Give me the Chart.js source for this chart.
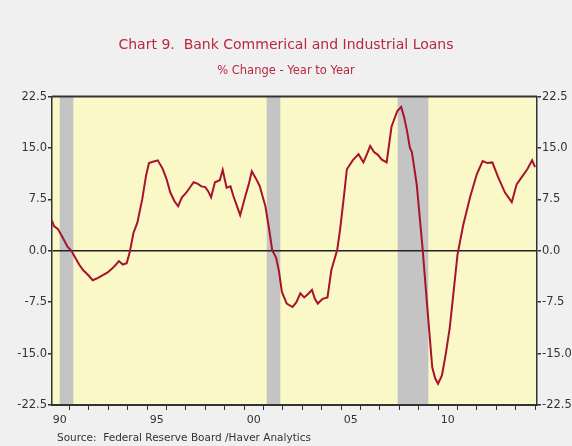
<!DOCTYPE html>
<html>
<head>
<meta charset="utf-8">
<script src="https://cdn.jsdelivr.net/npm/chart.js@4/dist/chart.umd.min.js"></script>
<style>
    body { margin: 0; background: #f0f0f0; }
    #wrap { position: relative; width: 572px; height: 446px; }
    #source {
        position: absolute; left: 57px; top: 431px;
        font: 10.5px "DejaVu Sans", Verdana, sans-serif; color: #333;
        white-space: pre;
    }
</style>
</head>
<body>
<div id="wrap">
    <canvas id="loanChart" width="572" height="446"></canvas>
    <div id="source">Source:  Federal Reserve Board /Haver Analytics</div>
</div>
<script>
// year-over-year % change
const dates = [
    1990.1, 1990.2, 1990.4, 1990.6, 1990.9, 1991.1, 1991.3, 1991.5, 1991.7, 1991.95,
    1992.2, 1992.45, 1992.7, 1992.95, 1993.2, 1993.4, 1993.55, 1993.75, 1993.95, 1994.1,
    1994.3, 1994.5, 1994.75, 1994.95, 1995.1, 1995.3, 1995.55, 1995.8, 1996.0, 1996.2,
    1996.4, 1996.6, 1996.8, 1997.0, 1997.2, 1997.4, 1997.6, 1997.8, 1998.0, 1998.15,
    1998.3, 1998.5, 1998.75, 1998.9, 1999.1, 1999.3, 1999.45, 1999.6, 1999.8, 2000.05,
    2000.25, 2000.4, 2000.6, 2000.8, 2000.9, 2001.1, 2001.3, 2001.45, 2001.65, 2001.8,
    2001.95, 2002.2, 2002.5, 2002.7, 2002.9, 2003.1, 2003.3, 2003.5, 2003.65, 2003.8,
    2004.05, 2004.3, 2004.5, 2004.8, 2004.95, 2005.15, 2005.3, 2005.6, 2005.9, 2006.15,
    2006.35, 2006.5, 2006.7, 2006.9, 2007.1, 2007.35, 2007.6, 2007.9, 2008.1, 2008.25,
    2008.4, 2008.55, 2008.65, 2008.9, 2009.2, 2009.45, 2009.7, 2009.85, 2010.0, 2010.2,
    2010.4, 2010.6, 2010.8, 2011.0, 2011.3, 2011.65, 2012.0, 2012.3, 2012.55, 2012.8,
    2013.1, 2013.45, 2013.8, 2014.05, 2014.35, 2014.6, 2014.85, 2015.0
];
const loanGrowth = [
    4.4, 3.6, 3.2, 2.2, 0.6, 0.0, -1.0, -2.0, -2.8, -3.5,
    -4.3, -4.0, -3.6, -3.2, -2.6, -2.0, -1.5, -2.0, -1.8, -0.3,
    2.6, 4.1, 7.5, 11.0, 12.8, 13.0, 13.2, 12.0, 10.5, 8.5,
    7.3, 6.5, 7.8, 8.4, 9.2, 10.0, 9.8, 9.4, 9.3, 8.7,
    7.8, 10.0, 10.3, 11.8, 9.2, 9.4, 8.0, 6.8, 5.2, 7.8,
    9.8, 11.6, 10.6, 9.5, 8.5, 6.5, 3.0, 0.1, -1.0, -3.0,
    -6.0, -7.7, -8.2, -7.5, -6.2, -6.8, -6.3, -5.7, -7.0, -7.7,
    -7.0, -6.8, -2.8, 0.1, 3.1, 8.0, 11.9, 13.2, 14.1, 12.9,
    14.2, 15.3, 14.4, 14.0, 13.3, 12.9, 18.1, 20.4, 21.0, 19.5,
    17.5, 15.0, 14.4, 9.7, 0.4, -8.4, -17.0, -18.6, -19.4, -18.2,
    -15.0, -11.3, -6.0, -0.6, 3.8, 7.8, 11.2, 13.1, 12.8, 12.9,
    10.7, 8.5, 7.1, 9.7, 10.9, 11.9, 13.2, 12.2
];

const yTicks = [-22.5, -15.0, -7.5, 0.0, 7.5, 15.0, 22.5];
const yearTicks = [1991, 1992, 1993, 1994, 1995, 1996, 1997, 1998, 1999, 2000, 2001, 2002, 2003,
    2004, 2005, 2006, 2007, 2008, 2009, 2010, 2011, 2012, 2013, 2014, 2015];
const labelYears = [1990.5, 1995.5, 2000.5, 2005.5, 2010.5];
const yearLabels = ["90", "95", "00", "05", "10"];

// recessions: start, end
const recessionStart = [1990.5, 2001.17, 2007.92];
const recessionEnd = [1991.2, 2001.87, 2009.5];

const FONT = "'DejaVu Sans', Verdana, sans-serif";

const backdrop = {
    id: "backdrop",
    beforeDraw(chart) {
        const { ctx, chartArea: a, scales } = chart;
        ctx.save();
        ctx.fillStyle = "#f0f0f0";
        ctx.fillRect(0, 0, chart.width, chart.height);
        ctx.fillStyle = "#faf8c6";
        ctx.fillRect(a.left, a.top, a.right - a.left, a.bottom - a.top);
        ctx.fillStyle = "#c4c4c4";
        recessionStart.forEach((s, i) => {
            const x1 = scales.x.getPixelForValue(s);
            const x2 = scales.x.getPixelForValue(recessionEnd[i]);
            ctx.fillRect(x1, a.top, x2 - x1, a.bottom - a.top);
        });
        ctx.restore();
    },
    afterDraw(chart) {
        const { ctx, chartArea: a } = chart;
        ctx.save();
        ctx.strokeStyle = "#333";
        ctx.lineWidth = 2;
        ctx.beginPath();
        ctx.moveTo(a.left, a.top);
        ctx.lineTo(a.right, a.top);
        ctx.stroke();
        ctx.restore();
    }
};

function yAxis(position) {
    return {
        type: "linear",
        position: position,
        min: -22.5,
        max: 22.5,
        afterBuildTicks: scale => { scale.ticks = yTicks.map(v => ({ value: v })); },
        afterFit: scale => { scale.width = position === "left" ? 52 : 35; },
        ticks: {
            color: "#333",
            font: { family: FONT, size: 11.5 },
            padding: 1,
            callback: v => v.toFixed(1)
        },
        grid: {
            drawOnChartArea: position === "left",
            color: ctx => ctx.tick && ctx.tick.value === 0 ? "#222" : "rgba(0,0,0,0)",
            lineWidth: 1.5,
            tickColor: "#333",
            tickLength: 4
        },
        border: { display: true, color: "#333", width: 1.5 }
    };
}

const chart = new Chart(document.getElementById("loanChart"), {
    type: "line",
    data: {
        datasets: [{
            data: dates.map((d, i) => ({ x: d, y: loanGrowth[i] })),
            borderColor: "#a8122c",
            borderWidth: 2,
            pointRadius: 0,
            tension: 0,
            yAxisID: "y"
        }]
    },
    plugins: [backdrop],
    options: {
        responsive: false,
        animation: false,
        devicePixelRatio: 1,
        layout: { padding: { top: 37, bottom: 13, left: 0, right: 0 } },
        plugins: {
            legend: { display: false },
            tooltip: { enabled: false },
            title: {
                display: true,
                text: "Chart 9.  Bank Commerical and Industrial Loans",
                color: "#b8283f",
                font: { family: FONT, size: 14, weight: "normal" },
                padding: { top: 0, bottom: 10 }
            },
            subtitle: {
                display: true,
                text: "% Change - Year to Year",
                color: "#b8283f",
                font: { family: FONT, size: 11.5 },
                padding: { top: 0, bottom: 19 }
            }
        },
        scales: {
            x: {
                type: "linear",
                min: 1990.1,
                max: 2015.1,
                afterBuildTicks: scale => {
                    scale.ticks = yearTicks.concat(labelYears).sort((a, b) => a - b).map(v => ({ value: v }));
                },
                afterFit: scale => { scale.height = 28; },
                ticks: {
                    autoSkip: false,
                    maxRotation: 0,
                    color: "#333",
                    font: { family: FONT, size: 11 },
                    padding: 4,
                    callback: v => {
                        const i = labelYears.indexOf(v);
                        return i >= 0 ? yearLabels[i] : "";
                    }
                },
                grid: {
                    drawOnChartArea: false,
                    tickLength: 5,
                    tickColor: ctx => ctx.tick && Number.isInteger(ctx.tick.value) ? "#333" : "rgba(0,0,0,0)"
                },
                border: { display: true, color: "#333", width: 2 }
            },
            y: yAxis("left"),
            y2: yAxis("right")
        }
    }
});
</script>
</body>
</html>
